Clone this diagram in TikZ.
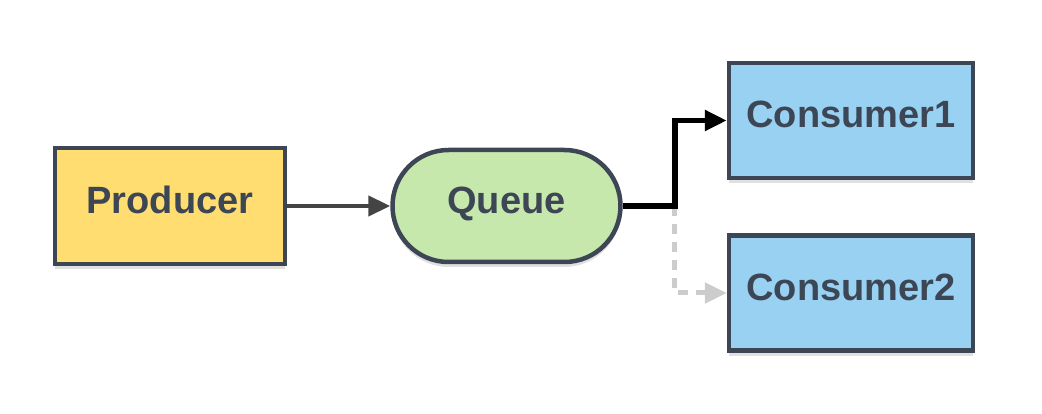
\documentclass[tikz,border=0pt]{standalone}
\usepackage{fontspec}
\setmainfont{Liberation Sans}
\usepackage{tikz}
\usetikzlibrary{positioning,shapes,arrows.meta,shadows}

\definecolor{edgegray}{HTML}{3D4654}
\definecolor{linkgray}{HTML}{444444}
\definecolor{prodfill}{HTML}{FFDD71}
\definecolor{queuefill}{HTML}{C7E8AC}
\definecolor{consfill}{HTML}{99D1F2}
\definecolor{idlegray}{HTML}{CCCCCC}

\begin{document}
\begin{tikzpicture}[x=1pt, y=-1pt,
    >={Triangle[length=22pt,width=20pt]},
    bb/.style={%
      rectangle, draw=edgegray, line width=4.5pt, text=edgegray,
      font=\fontsize{38}{45}\selectfont\bfseries,
      inner sep=0pt, text height=27pt, text depth=12pt,
      drop shadow={shadow xshift=0pt, shadow yshift=-5pt, opacity=0.12, fill=black}
    },
    prodbox/.style={bb, fill=prodfill, minimum width=230pt, minimum height=116pt},
    queuebox/.style={bb, fill=queuefill, rounded rectangle, minimum width=228pt, minimum height=112pt},
    consbox/.style={bb, fill=consfill, minimum width=244pt, minimum height=115pt}
]
    \useasboundingbox (0,0) rectangle (1042,414);

    \node[prodbox] (prod) at (170,206) {Producer};
    \node[queuebox] (queue) [right = 103pt of prod] {Queue};
    \node[consbox] (cons1) [right = 104pt of queue, yshift = 85.5pt] {Consumer1};
    \node[consbox] (cons2) [below = 53pt of cons1] {Consumer2};

    \coordinate (split) at ([xshift=52pt]queue.east);

    % idle route first, the active one on top
    \draw[->, idlegray, line width=5pt, dash pattern=on 10pt off 8pt]
        (split) |- (cons2.west);
    \draw[->, linkgray, line width=4.5pt] (prod) -- (queue);
    \draw[->, black, line width=5.5pt] (queue.east) -- (split) |- (cons1.west);

\end{tikzpicture}
\end{document}
